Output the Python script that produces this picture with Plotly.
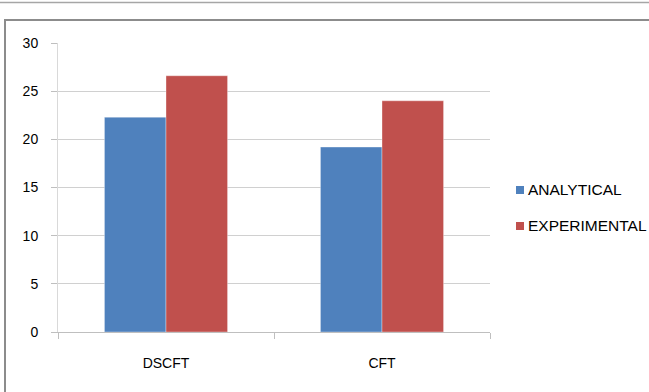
import plotly.graph_objects as go

# Data
categories = ["DSCFT", "CFT"]
analytical = [22.3, 19.2]
experimental = [26.6, 24.0]
series_names = ["ANALYTICAL", "EXPERIMENTAL"]
series_colors = ["#4F81BD", "#C0504D"]
y_ticks = [0, 5, 10, 15, 20, 25, 30]

W, H = 649, 392
L, R, T, B = 58, 159, 43, 60
PW, PH = W - L - R, H - T - B


def px(x):
    return (x - L) / PW


def py(y):
    return (H - B - y) / PH


FONT = "Liberation Sans"

fig = go.Figure()
for name, vals, col in zip(series_names, [analytical, experimental], series_colors):
    fig.add_trace(go.Bar(
        x=categories, y=vals, name=name,
        marker=dict(color=col, line=dict(color="rgba(255,255,255,0.35)", width=1)),
        showlegend=False,
    ))

shapes = [
    # outer chart frame
    dict(type="rect", xref="paper", yref="paper",
         x0=px(5), x1=px(700), y0=py(450), y1=py(20),
         line=dict(color="#8C8C8C", width=2), layer="below"),
    # page line at the top
    dict(type="line", xref="paper", yref="paper",
         x0=px(0), x1=px(649), y0=py(2.5), y1=py(2.5),
         line=dict(color="#A6A6A6", width=1.5)),
]
annotations = []
for i, (name, col) in enumerate(zip(series_names, series_colors)):
    yc = 189 + 36 * i
    shapes.append(dict(type="rect", xref="paper", yref="paper",
                       x0=px(516), x1=px(524), y0=py(yc + 5), y1=py(yc - 3),
                       fillcolor=col, line=dict(width=0)))
    annotations.append(dict(xref="paper", yref="paper", x=px(526), y=py(yc),
                            text=name, showarrow=False, xanchor="left", yanchor="middle",
                            font=dict(family=FONT, size=15.5, color="#000000")))

fig.update_layout(
    width=W, height=H,
    margin=dict(l=L, r=R, t=T, b=B, pad=0),
    paper_bgcolor="white", plot_bgcolor="white",
    barmode="group", bargap=0.43, bargroupgap=0,
    font=dict(family=FONT, size=14, color="#000000"),
    shapes=shapes, annotations=annotations,
    xaxis=dict(
        type="category", tickson="boundaries", ticks="outside", ticklen=6,
        tickcolor="#BFBFBF", showline=True, linecolor="#BFBFBF", linewidth=1,
        showgrid=False, ticklabelstandoff=18, tickfont=dict(size=14),
    ),
    yaxis=dict(
        range=[0, 30], tickvals=y_ticks, ticks="outside", ticklen=6,
        tickcolor="#BFBFBF", showline=True, linecolor="#D9D9D9", linewidth=1,
        showgrid=True, gridcolor="#D0D0D0", gridwidth=1, zeroline=False,
        ticklabelstandoff=10, tickfont=dict(size=14),
    ),
)

fig.write_html("out.html")
